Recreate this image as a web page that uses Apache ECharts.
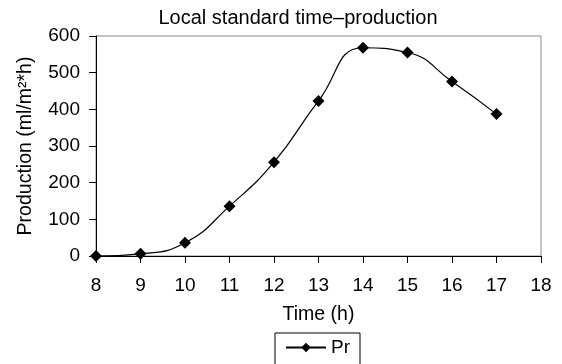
<!DOCTYPE html>
<html>
<head>
<meta charset="utf-8">
<script src="https://cdn.jsdelivr.net/npm/echarts@6/dist/echarts.min.js"></script>
<style>
  html, body { margin: 0; padding: 0; background: #fff; }
  #chart { width: 562px; height: 364px; }
</style>
</head>
<body>
<div id="chart"></div>
<script>
// hours and production values
var hours = [8, 9, 10, 11, 12, 13, 14, 15, 16, 17];
var production = [0, 6, 36, 136, 256, 423, 568, 555, 476, 387];

var points = hours.map(function (h, i) { return [h, production[i]]; });

var font = 'Liberation Sans, Arial, sans-serif';
var myChart = echarts.init(document.getElementById('chart'));

var option = {
    animation: false,
    title: {
        text: 'Local standard time\u2013production',
        left: 293,
        textAlign: 'center',
        top: 3,
        textStyle: { fontFamily: font, fontSize: 20, fontWeight: 'normal', color: '#000' }
    },
    grid: {
        left: 96,
        right: 21,
        top: 36,
        bottom: 108,
        show: true,
        borderColor: '#888',
        borderWidth: 1
    },
    legend: {
        left: 275,
        top: 333,
        data: ['Pr'],
        itemWidth: 40,
        itemHeight: 12,
        padding: [5, 10, 8, 10],
        borderColor: '#000',
        borderWidth: 1,
        borderRadius: 0,
        textStyle: { fontFamily: font, fontSize: 19, color: '#000' }
    },
    xAxis: {
        type: 'value',
        min: 8,
        max: 18,
        interval: 1,
        name: 'Time (h)',
        nameLocation: 'middle',
        nameGap: 49,
        nameTextStyle: { fontFamily: font, fontSize: 19.5, color: '#000' },
        axisLine: { lineStyle: { color: '#000', width: 1 } },
        axisTick: { show: true, length: 7, lineStyle: { color: '#000' } },
        axisLabel: { fontFamily: font, fontSize: 19, color: '#000', margin: 20 },
        splitLine: { show: false }
    },
    yAxis: {
        type: 'value',
        min: 0,
        max: 600,
        interval: 100,
        name: 'Production (ml/m\u00b2*h)',
        nameLocation: 'middle',
        nameGap: 60,
        nameTextStyle: { fontFamily: font, fontSize: 19.5, color: '#000' },
        axisLine: { show: true, lineStyle: { color: '#000', width: 1 } },
        axisTick: { show: true, length: 7, lineStyle: { color: '#000' } },
        axisLabel: { fontFamily: font, fontSize: 19, color: '#000', margin: 16 },
        splitLine: { show: false }
    },
    series: [
        {
            name: 'Pr',
            type: 'line',
            data: points,
            smooth: 0.5,
            symbol: 'diamond',
            symbolSize: 12,
            itemStyle: { color: '#000' },
            lineStyle: { color: '#000', width: 1.2 }
        }
    ]
};
myChart.setOption(option);
</script>
</body>
</html>
